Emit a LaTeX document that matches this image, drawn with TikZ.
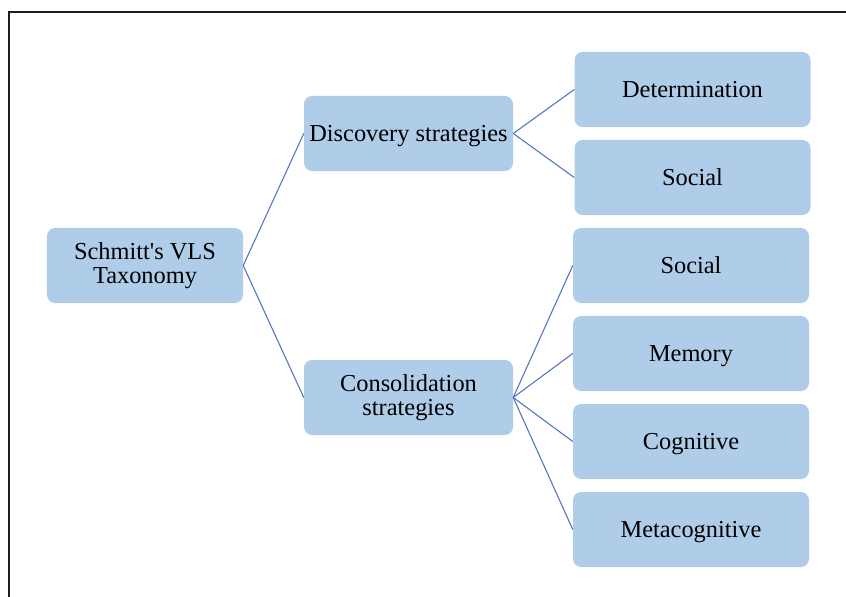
\documentclass[tikz,border=0pt]{standalone}
\usepackage{fontspec}
\setmainfont{Liberation Serif}
\usepackage{tikz}
\usepackage{xcolor}
\usetikzlibrary{positioning, calc}
\definecolor{cBox}{RGB}{175,204,233}
\definecolor{cLine}{RGB}{79,115,190}
\definecolor{cFrame}{RGB}{30,30,30}
\newcommand{\lnstrut}{\rule[-0.216em]{0pt}{1.106em}}
\tikzset{
	catbox/.style={rectangle, rounded corners=7pt, draw=none, fill=cBox, align=center, text centered, inner sep=2pt, font=\fontsize{20.8}{20.7}\selectfont, execute at begin node=\lnstrut, execute at end node=\lnstrut},
	rootbox/.style={catbox, minimum width=5.88cm, minimum height=2.25cm},
	midbox/.style ={catbox, minimum width=6.27cm, minimum height=2.25cm},
	leafbox/.style={catbox, minimum width=7.08cm, minimum height=2.25cm},
	link/.style={draw=cLine, line width=0.9pt},
}

\begin{document}
\begin{tikzpicture}[x=0.03cm, y=-0.03cm]
			\useasboundingbox (0,0) rectangle (846,597);
			\draw[cFrame, line width=1.6pt] (9,12) rectangle (860,610);
			% root and the two groups
			\node[rootbox] (root) at (145,265.5) {Schmitt\textquotesingle s VLS\\Taxonomy};
			\node[midbox] (disc) at (408.5,133.5) {Discovery strategies};
			\node[midbox] (cons) at (408.5,397.5) {Consolidation\\strategies};
			% leaves
			\foreach \name/\txt/\yy/\xx in {det/Determination/89.5/692.5, soc/Social/177.5/692.5} {
				\node[leafbox] (\name) at (\xx,\yy) {\txt};
				\draw[link] (disc.east) -- (\name.west);
			}
			\foreach \name/\txt/\yy/\xx in {csoc/Social/265.5/691, mem/Memory/353.5/691, cog/Cognitive/441.5/691, meta/Metacognitive/529.5/691} {
				\node[leafbox] (\name) at (\xx,\yy) {\txt};
				\draw[link] (cons.east) -- (\name.west);
			}
			\draw[link] (root.east) -- (disc.west);
			\draw[link] (root.east) -- (cons.west);
		\end{tikzpicture}
\end{document}
